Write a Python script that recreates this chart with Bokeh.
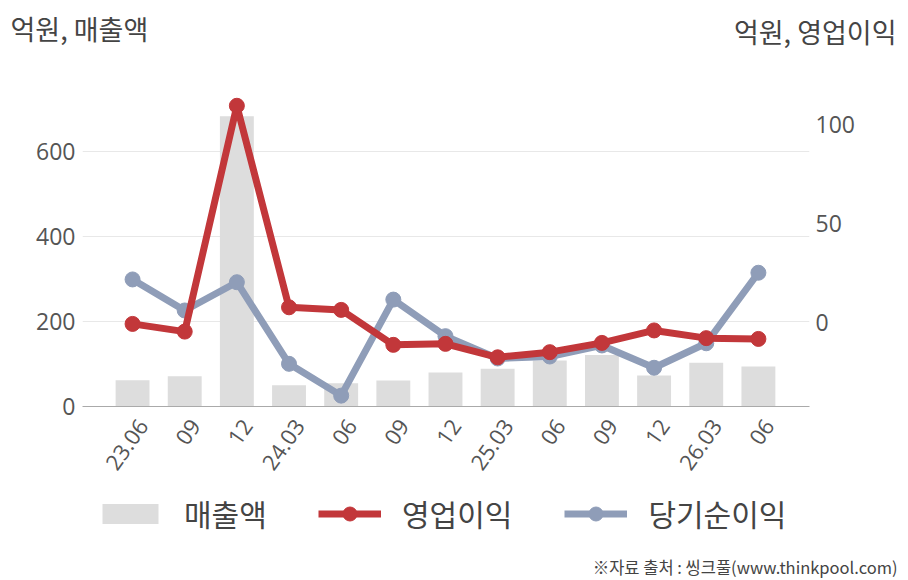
import math
from bokeh.plotting import figure
from bokeh.layouts import column
from bokeh.models import (Range1d, LinearAxis, FixedTicker, Legend, LegendItem,
                          Label, ColumnDataSource)
from bokeh.embed import file_html
from bokeh.resources import INLINE

# ---- data ----
tick_labels = ["23.06", "09", "12", "24.03", "06", "09", "12",
               "25.03", "06", "09", "12", "26.03", "06"]
sales = [62, 71, 683, 50, 55, 61, 80, 89, 108, 121, 73, 103, 94]          # 매출액 (left)
op_profit = [-0.7, -4.6, 109.7, 7.7, 6.4, -11.3, -10.8, -17.6, -15.0,
             -10.3, -4.0, -7.9, -8.3]                                      # 영업이익 (right)
net_income = [21.8, 6.1, 20.4, -20.9, -37.0, 11.6, -6.9, -18.2, -17.2,
              -11.6, -22.9, -10.5, 25.2]                                   # 당기순이익 (right)
left_ticks = [0, 200, 400, 600]
right_ticks = [0, 50, 100]
series_names = ["매출액", "영업이익", "당기순이익"]
title_left = "억원, 매출액"
title_right = "억원, 영업이익"
source_note = "※자료 출처 : 씽크풀(www.thinkpool.com)"

xs = list(range(len(tick_labels)))
src = ColumnDataSource(dict(x=xs, sales=sales, op=op_profit, net=net_income))

KR = "Noto Sans CJK KR"
NUM = "Open Sans"
RED = "#c2373a"
BLUE = "#8f9db8"
BAR = "#dddddd"
TXT = "#444444"
TICK = "#555555"

W = 908
H_HEAD, H_MAIN, H_FOOT = 60, 430, 90


def blank(h):
    f = figure(width=W, height=h, output_backend="svg", toolbar_location=None,
               x_range=Range1d(0, W), y_range=Range1d(h, 0),
               x_axis_type=None, y_axis_type=None, frame_align=False,
               min_border=0, min_border_left=0, min_border_right=0,
               min_border_top=0, min_border_bottom=0)
    f.outline_line_color = None
    f.grid.visible = False
    return f


# ---- header ----
head = blank(H_HEAD)
head.add_layout(Label(x=10, y=28, text=title_left, text_font=KR, text_font_size="27px",
                      text_color=TXT, text_align="left", text_baseline="middle"))
head.add_layout(Label(x=896, y=31, text=title_right, text_font=KR, text_font_size="27px",
                      text_color=TXT, text_align="right", text_baseline="middle"))

# ---- main chart ----
p = figure(width=W, height=H_MAIN, output_backend="svg", toolbar_location=None,
           x_range=Range1d(-0.96, 12.98), y_range=Range1d(0, 731.8),
           x_axis_type=None, frame_align=False,
           min_border_left=82, min_border_right=99, min_border_top=35,
           min_border_bottom=84)
p.outline_line_color = None
p.extra_y_ranges = {"right": Range1d(-42.5, 114.9)}
p.extra_x_ranges = {"lab": Range1d(-0.96 - 0.2, 12.98 - 0.2)}

xa = LinearAxis(x_range_name="lab", ticker=FixedTicker(ticks=xs))
xa.major_label_overrides = {i: t for i, t in enumerate(tick_labels)}
xa.major_label_orientation = math.radians(55)
xa.major_label_text_font = NUM
xa.major_label_text_font_size = "22px"
xa.major_label_text_color = TICK
xa.axis_line_color = "#aaaaaa"
xa.major_tick_line_color = None
xa.minor_tick_line_color = None
xa.major_label_standoff = 9
p.add_layout(xa, "below")

p.yaxis.ticker = FixedTicker(ticks=left_ticks)
p.yaxis.axis_line_color = None
p.yaxis.major_tick_line_color = None
p.yaxis.minor_tick_line_color = None
p.yaxis.major_tick_out = 0
p.yaxis.major_label_text_font = NUM
p.yaxis.major_label_text_font_size = "23px"
p.yaxis.major_label_text_color = TICK
p.yaxis.major_label_standoff = 7
p.ygrid.grid_line_color = "#e8e8e8"
p.ygrid.ticker = FixedTicker(ticks=left_ticks)

ra = LinearAxis(y_range_name="right", ticker=FixedTicker(ticks=right_ticks))
ra.axis_line_color = None
ra.major_tick_line_color = None
ra.minor_tick_line_color = None
ra.major_tick_out = 0
ra.major_label_text_font = NUM
ra.major_label_text_font_size = "23px"
ra.major_label_text_color = TICK
ra.major_label_standoff = 6
p.add_layout(ra, "right")

p.vbar(x="x", top="sales", width=0.65, source=src, fill_color=BAR, line_color=None)
p.line("x", "net", source=src, y_range_name="right", line_color=BLUE, line_width=7)
p.scatter("x", "net", source=src, y_range_name="right", size=15,
          fill_color=BLUE, line_color=BLUE)
p.line("x", "op", source=src, y_range_name="right", line_color=RED, line_width=7)
p.scatter("x", "op", source=src, y_range_name="right", size=15,
          fill_color=RED, line_color=RED)

# ---- footer: legend (styles mirrored on hidden renderers) + source note ----
foot = blank(H_FOOT)
lb = foot.vbar(x="x", top="sales", width=0.65, source=src, fill_color=BAR,
               line_color=None, visible=False)
lrl = foot.line("x", "op", source=src, line_color=RED, line_width=7, visible=False)
lrs = foot.scatter("x", "op", source=src, fill_color=RED, line_color=RED, visible=False)
lbl = foot.line("x", "net", source=src, line_color=BLUE, line_width=7, visible=False)
lbs = foot.scatter("x", "net", source=src, fill_color=BLUE, line_color=BLUE, visible=False)


def style_legend(lg):
    lg.label_text_font = KR
    lg.label_text_font_size = "30px"
    lg.label_text_color = TXT
    lg.border_line_color = None
    lg.background_fill_alpha = 0
    lg.inactive_fill_alpha = 0
    lg.margin = 0
    lg.padding = 0
    lg.orientation = "horizontal"
    lg.click_policy = "none"


leg_a = Legend(items=[LegendItem(label=series_names[0], renderers=[lb])],
               location=(95, 45))
style_legend(leg_a)
leg_a.glyph_width = 70
leg_a.glyph_height = 25
leg_a.label_standoff = 19
foot.add_layout(leg_a, "center")

leg_b = Legend(items=[LegendItem(label=series_names[1], renderers=[lrl, lrs]),
                      LegendItem(label=series_names[2], renderers=[lbl, lbs])],
               location=(318, 45))
style_legend(leg_b)
leg_b.glyph_width = 63
leg_b.glyph_height = 35
leg_b.label_standoff = 21
leg_b.spacing = 52
foot.add_layout(leg_b, "center")

foot.add_layout(Label(x=897, y=76, text=source_note, text_font=KR, text_font_size="16.5px",
                      text_color=TXT, text_align="right", text_baseline="middle"))

layout = column(head, p, foot, spacing=0)
open("out.html", "w").write(file_html(layout, INLINE))
